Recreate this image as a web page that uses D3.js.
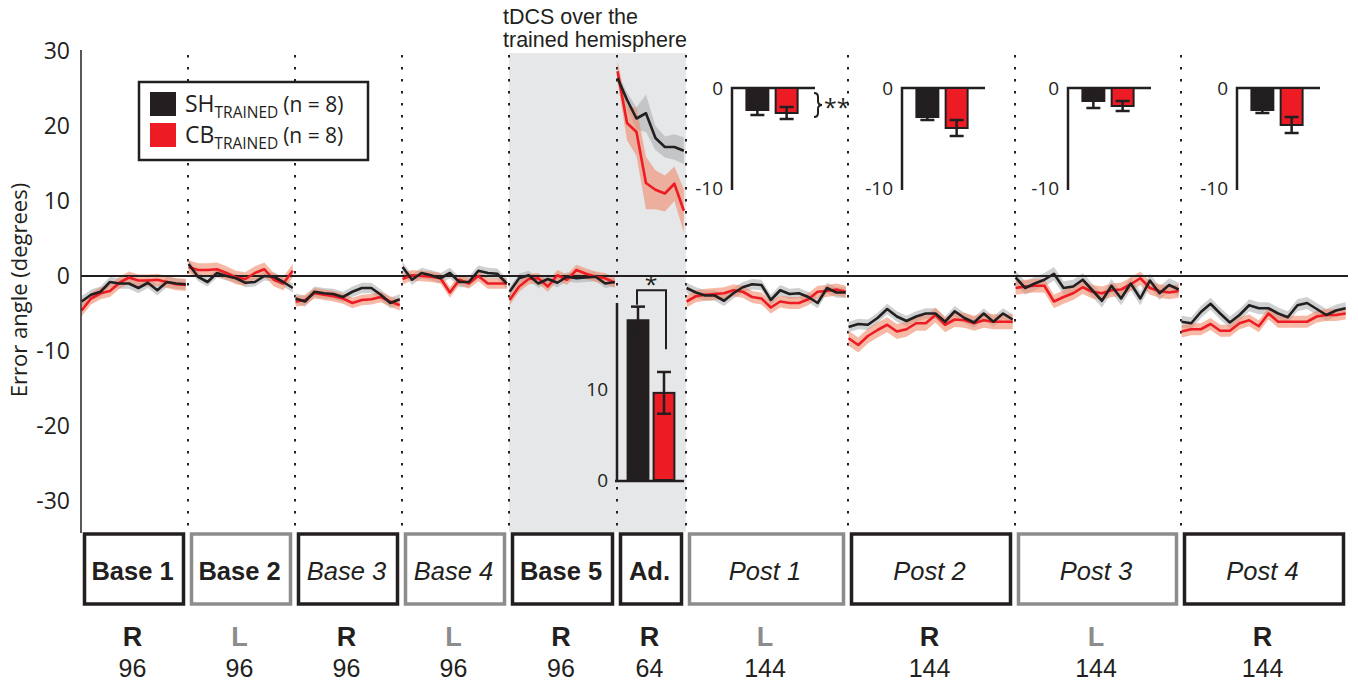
<!DOCTYPE html>
<html><head><meta charset="utf-8">
<script src="https://cdn.jsdelivr.net/npm/d3@7"></script>
<style>body{margin:0;background:#fff;} svg{display:block;}</style>
</head><body><svg id="c" width="1358" height="689"></svg>
<script>
// ---------- DATA ----------
const blocks = ["Base 1","Base 2","Base 3","Base 4","Base 5","Ad.","Post 1","Post 2","Post 3","Post 4"];
const blockTrials = [96,96,96,96,96,64,144,144,144,144];
const blockHand = ["R","L","R","L","R","R","L","R","L","R"];
const yTicks = [30,20,10,0,-10,-20,-30];

// binned error angle (degrees), one array per block
const shTrained = [
  [-3.4,-2.5,-2.1,-0.8,-1.0,-1.0,-1.6,-0.9,-1.9,-0.8,-1.0,-1.1],
  [1.6,-0.1,-0.8,0.4,0.0,-0.3,-0.9,-0.8,0.0,-0.1,-0.8,-1.6],
  [-3.0,-3.4,-2.1,-2.3,-2.4,-2.8,-2.1,-1.6,-1.6,-2.5,-3.6,-3.1],
  [1.2,-0.5,0.4,0.1,-0.3,0.4,-0.8,-0.8,0.7,0.4,0.3,-1.0],
  [-2.1,-0.3,0.1,-1.0,-0.4,-0.9,-0.1,-0.3,-0.2,-0.1,-1.0,-0.8],
  [26.4,23.5,21.0,21.7,18.4,17.2,17.2,16.7],
  [-1.6,-2.2,-2.6,-2.6,-3.3,-2.3,-1.5,-1.1,-1.2,-3.2,-1.9,-2.4,-2.3,-2.8,-3.6,-1.6,-2.2,-2.2],
  [-6.8,-6.4,-6.5,-5.6,-4.4,-5.4,-6.0,-5.4,-5.0,-5.0,-6.1,-4.7,-5.6,-6.2,-5.0,-6.1,-5.0,-5.8],
  [-0.2,-1.6,-1.0,-0.5,0.3,-1.6,-1.4,-0.5,-1.9,-3.3,-1.3,-3.0,-1.0,-3.0,-0.6,-2.3,-1.2,-1.8],
  [-6.1,-6.3,-4.8,-3.7,-5.0,-6.2,-5.2,-3.9,-4.3,-4.3,-5.0,-5.5,-3.9,-3.6,-4.4,-5.2,-4.6,-4.3]
];
const cbTrained = [
  [-4.6,-3.0,-2.3,-2.0,-0.9,-0.2,-0.6,-0.6,-0.5,-0.8,-1.1,-1.2],
  [1.2,0.8,0.8,0.9,0.4,-0.2,-0.4,0.4,0.9,-0.5,-1.0,0.7],
  [-3.4,-3.2,-2.3,-2.5,-2.7,-3.0,-3.6,-3.2,-3.1,-2.8,-3.4,-3.9],
  [-0.4,0.1,0.0,-0.1,-0.3,-2.2,-0.5,-1.0,0.0,-1.0,-1.0,-1.0],
  [-3.2,-1.4,-0.4,-0.3,-1.4,0.1,-0.5,0.8,0.3,-0.1,-0.3,-0.9],
  [27.3,20.4,19.2,12.4,11.5,11.0,12.3,8.7],
  [-3.4,-2.7,-2.5,-2.4,-2.3,-1.9,-2.1,-2.8,-3.0,-4.2,-3.4,-3.6,-3.6,-3.1,-2.1,-2.0,-1.8,-2.1],
  [-8.3,-9.2,-8.0,-7.2,-6.5,-7.4,-7.1,-6.3,-6.3,-5.2,-6.5,-5.8,-5.9,-6.3,-5.9,-6.1,-6.1,-6.1],
  [-1.6,-1.4,-1.3,-1.3,-3.4,-2.8,-2.3,-1.5,-2.1,-2.3,-1.9,-1.8,-1.1,-0.3,-1.6,-2.0,-2.2,-2.0],
  [-7.4,-7.1,-7.1,-6.4,-7.3,-7.3,-6.3,-5.9,-6.7,-5.0,-6.1,-6.1,-6.1,-6.1,-5.4,-5.2,-5.2,-5.0]
];
// standard error per block (Ad. block has per-point SE)
const shSE = [0.7,0.6,0.7,0.7,0.6,[0.6,1.0,1.5,2.5,1.6,1.4,1.7,1.8],0.7,0.7,0.9,0.8];
const cbSE = [0.8,0.9,0.7,0.7,0.7,[1.4,2.3,3.2,3.5,2.6,2.4,2.3,2.9],0.8,1.0,0.9,0.8];

// inset bars: Ad. block (mean error) and post blocks
const groups = ["SH","CB"];
const adBarMean = [17.6, 9.6];
const adBarSE = [1.5, 2.3];
const postBarSH = [-2.2,-2.9,-1.3,-2.2];
const postBarSHse = [0.5,0.3,0.7,0.3];
const postBarCB = [-2.5,-4.0,-1.8,-3.7];
const postBarCBse = [0.6,0.8,0.5,0.8];

// ---------- LAYOUT / STYLE ----------
const BLACK = "#231f20", RED = "#ed1c24", GRAY = "#8c8c8c";
const MYR = "'Open Sans', 'Noto Sans', sans-serif";
const HEL = "'Liberation Sans', Arial, sans-serif";
const boundaryPx = [81,188,295,402,509,617,686,848,1015,1181,1348];
const boxFontStyle = ["bold","bold","italic","italic","bold","bold","italic","italic","italic","italic"];
const insetOffsets = [46,54,53,56];

const svg = d3.select("#c");
const cum = [0];
blockTrials.forEach((t,i)=>cum.push(cum[i]+t));
const x = d3.scaleLinear().domain(cum).range(boundaryPx);
const y = d3.scaleLinear().domain([-30,30]).range([501,51]);

// shaded tDCS region
svg.append("rect").attr("x", x(cum[4])).attr("y", 53)
  .attr("width", x(cum[6]) - x(cum[4])).attr("height", 532-53).attr("fill", "#e6e7e8");

// tDCS text
const tt = svg.append("text").attr("font-family", HEL).attr("font-size", 21.5).attr("fill", BLACK);
tt.append("tspan").attr("x", 503).attr("y", 24).text("tDCS over the");
tt.append("tspan").attr("x", 503).attr("y", 47).text("trained hemisphere");

// dotted boundaries
svg.selectAll("line.dot").data(cum.slice(1, -1)).join("line")
  .attr("x1", d=>x(d)).attr("x2", d=>x(d)).attr("y1", 55).attr("y2", 530)
  .attr("stroke", BLACK).attr("stroke-width", 2).attr("stroke-dasharray", "2.5,9.5");

// series geometry
function pts(b, vals){
  const n = vals.length, T = blockTrials[b];
  return vals.map((v,i)=>({t: cum[b] + 0.5 + i*(T-2.5)/(n-1), v, i}));
}
function seAt(se, b, i){ const s = se[b]; return Array.isArray(s) ? s[i] : s; }

const area = d3.area().x(d=>x(d.t)).y0(d=>y(d.v - d.se)).y1(d=>y(d.v + d.se));
const line = d3.line().x(d=>x(d.t)).y(d=>y(d.v));

const series = [
  {data: shTrained, se: shSE, color: BLACK, band: "#a7a9ac", op: 0.55},
  {data: cbTrained, se: cbSE, color: RED, band: "#f08a6a", op: 0.6}
];
series.forEach(s=>{
  s.data.forEach((vals,b)=>{
    const p = pts(b, vals).map(d=>({...d, se: seAt(s.se, b, d.i)}));
    svg.append("path").attr("d", area(p)).attr("fill", s.band).attr("opacity", s.op);
  });
});

// zero line
svg.append("line").attr("x1", 81).attr("x2", x(cum[cum.length-1])).attr("y1", y(0)).attr("y2", y(0))
  .attr("stroke", BLACK).attr("stroke-width", 2.2);

[series[1], series[0]].forEach(s=>{
  s.data.forEach((vals,b)=>{
    svg.append("path").attr("d", line(pts(b, vals))).attr("fill","none")
      .attr("stroke", s.color).attr("stroke-width", 2.6).attr("stroke-linejoin","round");
  });
});

// y axis
svg.append("line").attr("x1", 81).attr("x2", 81).attr("y1", 50).attr("y2", 533)
  .attr("stroke", BLACK).attr("stroke-width", 1.5);
const yAx = svg.append("g").attr("transform", "translate(81,0)")
  .call(d3.axisLeft(y).tickValues(yTicks).tickSize(0).tickPadding(11).tickFormat(d=>String(d)));
yAx.select(".domain").remove();
yAx.selectAll("text").attr("font-family", MYR).attr("font-size", 23).attr("fill", BLACK);

svg.append("text").attr("transform", "translate(27,290) rotate(-90)")
  .attr("text-anchor", "middle").attr("font-family", MYR).attr("font-size", 22).attr("fill", BLACK)
  .text("Error angle (degrees)");

// legend
const lg = svg.append("g");
lg.append("rect").attr("x", 139).attr("y", 82).attr("width", 229).attr("height", 78)
  .attr("fill", "#fff").attr("stroke", BLACK).attr("stroke-width", 2.5);
[["SH", BLACK], ["CB", RED]].forEach(([nm, col], i)=>{
  const yy = 92 + i*31;
  lg.append("rect").attr("x", 150).attr("y", yy).attr("width", 26).attr("height", 24).attr("fill", col);
  const t = lg.append("text").attr("x", 185).attr("y", yy + 20).attr("font-family", MYR)
    .attr("font-size", 23).attr("fill", BLACK);
  t.append("tspan").text(nm);
  t.append("tspan").attr("font-size", 15.5).attr("dy", 6).text("TRAINED");
  t.append("tspan").attr("font-size", 21).attr("dy", -6).attr("dx", 5).text("(n = 8)");
});

// ---------- post-block insets ----------
postBarSH.forEach((_, k)=>{
  const b = 6 + k;
  const ax = x(cum[b]) + insetOffsets[k];
  const iy = d3.scaleLinear().domain([-10, 0]).range([188, 88]);
  const bx = d3.scaleBand().domain(groups).range([ax+10, ax+70]).paddingInner(0.25).paddingOuter(0.15);
  const g = svg.append("g");
  g.append("path").attr("d", `M${ax},${iy(-10.2)}V${iy(0)}H${ax+83}`)
    .attr("fill","none").attr("stroke", BLACK).attr("stroke-width", 2.5);
  const vals = [postBarSH[k], postBarCB[k]], ses = [postBarSHse[k], postBarCBse[k]];
  groups.forEach((gname, j)=>{
    const v = vals[j], se = ses[j];
    g.append("rect").attr("x", bx(gname)).attr("width", bx.bandwidth())
      .attr("y", iy(0)).attr("height", iy(v) - iy(0))
      .attr("fill", j ? RED : BLACK).attr("stroke", BLACK).attr("stroke-width", 2);
    const cx = bx(gname) + bx.bandwidth()/2;
    g.append("line").attr("x1", cx).attr("x2", cx).attr("y1", iy(Math.min(0, v+se))).attr("y2", iy(v-se))
      .attr("stroke", BLACK).attr("stroke-width", 2.5);
    [v+se, v-se].forEach(e=>{ if (e < 0) g.append("line").attr("x1", cx-7).attr("x2", cx+7)
      .attr("y1", iy(e)).attr("y2", iy(e)).attr("stroke", BLACK).attr("stroke-width", 2.5); });
  });
  [0, -10].forEach(tv=>{
    g.append("text").attr("x", ax-9).attr("y", iy(tv)).attr("dy", "0.35em").attr("text-anchor","end")
      .attr("font-family", MYR).attr("font-size", 19).attr("fill", BLACK).text(String(tv));
  });
  if (k === 0) {
    const bxR = ax + 83, y0 = iy(-0.5), y1 = iy(-2.9), ym = (y0+y1)/2;
    g.append("path").attr("d",
      `M${bxR-1},${y0} q4,0 4,4 V${ym-4} q0,4 4,4 q-4,0 -4,4 V${y1-4} q0,4 -4,4`)
      .attr("fill","none").attr("stroke", BLACK).attr("stroke-width", 2);
    g.append("text").attr("x", bxR+9).attr("y", ym+11).attr("font-family", MYR).attr("font-size", 23)
      .attr("fill", BLACK).text("**");
  }
});

// ---------- Ad. inset ----------
{
  const ax = x(cum[5]);
  const ay = d3.scaleLinear().domain([0, 19.5]).range([480, 303]);
  const bx = d3.scaleBand().domain(groups).range([ax+8, ax+60]).paddingInner(0.2).paddingOuter(0.1);
  const g = svg.append("g");
  g.append("path").attr("d", `M${ax},${ay(19.5)}V${ay(0)+1}M${ax-2},${ay(0)+1}H${x(cum[6])-2}`)
    .attr("fill","none").attr("stroke", BLACK).attr("stroke-width", 2.5);
  groups.forEach((gname, j)=>{
    const v = adBarMean[j], se = adBarSE[j];
    g.append("rect").attr("x", bx(gname)).attr("width", bx.bandwidth())
      .attr("y", ay(v)).attr("height", ay(0) - ay(v))
      .attr("fill", j ? RED : BLACK).attr("stroke", BLACK).attr("stroke-width", 2);
    const cx = bx(gname) + bx.bandwidth()/2;
    g.append("line").attr("x1", cx).attr("x2", cx).attr("y1", ay(v+se)).attr("y2", ay(v-se))
      .attr("stroke", BLACK).attr("stroke-width", 2.5);
    [v+se, v-se].forEach(e=> g.append("line").attr("x1", cx-7).attr("x2", cx+7)
      .attr("y1", ay(e)).attr("y2", ay(e)).attr("stroke", BLACK).attr("stroke-width", 2.5));
  });
  [10, 0].forEach(tv=>{
    g.append("text").attr("x", ax-9).attr("y", ay(tv)).attr("dy", "0.35em").attr("text-anchor","end")
      .attr("font-family", MYR).attr("font-size", 19).attr("fill", BLACK).text(String(tv));
  });
  const c0 = bx("SH") + bx.bandwidth()/2, c1 = bx("CB") + bx.bandwidth()/2;
  g.append("path").attr("d", `M${c0-1},${ay(19.3)}V${ay(20.9)}H${c1+2}V${ay(14.4)}`)
    .attr("fill","none").attr("stroke", BLACK).attr("stroke-width", 2);
  g.append("text").attr("x", (c0+c1)/2).attr("y", ay(20.9)+3).attr("text-anchor","middle")
    .attr("font-family", MYR).attr("font-size", 23).attr("fill", BLACK).text("*");
}

// ---------- block boxes and labels ----------
blocks.forEach((nm, b)=>{
  const x0 = x(cum[b]), x1 = x(cum[b+1]);
  const col = blockHand[b] === "R" ? BLACK : GRAY;
  svg.append("rect").attr("x", x0+3.5).attr("y", 534).attr("width", x1-x0-8).attr("height", 70)
    .attr("fill", "#fff").attr("stroke", col).attr("stroke-width", 3.5);
  const cx = (x0 + x1)/2 - 2;
  svg.append("text").attr("x", cx).attr("y", 571).attr("dy", "0.35em").attr("text-anchor","middle")
    .attr("font-family", HEL).attr("font-size", 25.5)
    .attr("font-weight", boxFontStyle[b] === "bold" ? "bold" : "normal")
    .attr("font-style", boxFontStyle[b] === "italic" ? "italic" : "normal")
    .attr("fill", BLACK).text(nm);
  svg.append("text").attr("x", cx).attr("y", 637).attr("dy", "0.35em").attr("text-anchor","middle")
    .attr("font-family", HEL).attr("font-size", 27).attr("font-weight","bold")
    .attr("fill", col).text(blockHand[b]);
  svg.append("text").attr("x", cx).attr("y", 668).attr("dy", "0.35em").attr("text-anchor","middle")
    .attr("font-family", HEL).attr("font-size", 25)
    .attr("fill", BLACK).text(String(blockTrials[b]));
});
</script></body></html>
